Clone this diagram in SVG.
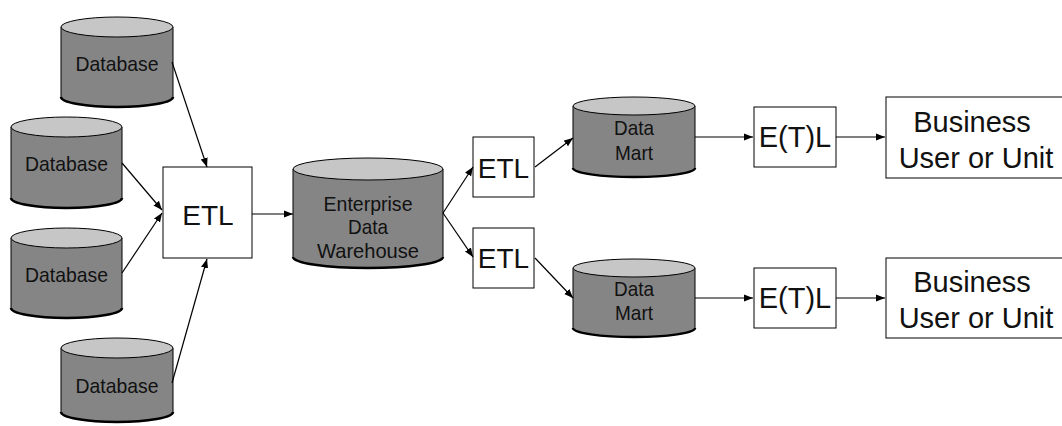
<svg xmlns="http://www.w3.org/2000/svg" width="1062" height="426" viewBox="0 0 1062 426">
<defs>
<style>
.body{fill:#858585;stroke:#000;stroke-width:1}
.top{fill:#c6c6c6;stroke:#000;stroke-width:1}
.base{fill:none;stroke:#000;stroke-width:2.5}
.box{fill:#fff;stroke:#000;stroke-width:1}
.t{font-family:"Liberation Sans",Arial,sans-serif;fill:#111;text-anchor:middle;dominant-baseline:central}
.s19{font-size:21px}
.s28{font-size:28px}
.s29{font-size:29px}
.c{stroke:#000;stroke-width:1.2;fill:none;marker-end:url(#ah)}
</style>
<marker id="ah" viewBox="0 0 10 10" refX="10" refY="5" markerWidth="9" markerHeight="9" markerUnits="userSpaceOnUse" orient="auto">
<path d="M0,1 L10,5 L0,9 z" fill="#000"/>
</marker>
</defs>
<rect width="1062" height="426" fill="#fff"/>

<g id="db1">
<path class="body" d="M61,27 V97 A56,10 0 0 0 173,97 V27"/>
<path class="base" d="M61,97 A56,10 0 0 0 173,97"/>
<ellipse class="top" cx="117" cy="27" rx="56" ry="10"/>
<text class="t s19" x="117" y="63" textLength="83" lengthAdjust="spacingAndGlyphs">Database</text>
</g>
<g id="db2">
<path class="body" d="M11,127 V198 A55.5,10 0 0 0 122,198 V127"/>
<path class="base" d="M11,198 A55.5,10 0 0 0 122,198"/>
<ellipse class="top" cx="66.5" cy="127" rx="55.5" ry="10"/>
<text class="t s19" x="66.5" y="163" textLength="83" lengthAdjust="spacingAndGlyphs">Database</text>
</g>
<g id="db3">
<path class="body" d="M11,238 V308 A55.5,10 0 0 0 122,308 V238"/>
<path class="base" d="M11,308 A55.5,10 0 0 0 122,308"/>
<ellipse class="top" cx="66.5" cy="238" rx="55.5" ry="10"/>
<text class="t s19" x="66.5" y="274" textLength="83" lengthAdjust="spacingAndGlyphs">Database</text>
</g>
<g id="db4">
<path class="body" d="M61,348 V412 A56,10 0 0 0 173,412 V348"/>
<path class="base" d="M61,412 A56,10 0 0 0 173,412"/>
<ellipse class="top" cx="117" cy="348" rx="56" ry="10"/>
<text class="t s19" x="117" y="385" textLength="83" lengthAdjust="spacingAndGlyphs">Database</text>
</g>

<g id="etl1">
<rect class="box" x="163" y="167" width="89" height="91"/>
<text class="t s28" x="208" y="215">ETL</text>
</g>

<g id="edw">
<path class="body" d="M293,169 V257 A75,11 0 0 0 443,257 V169"/>
<path class="base" d="M293,257 A75,11 0 0 0 443,257"/>
<ellipse class="top" cx="368" cy="169" rx="75" ry="11"/>
<text class="t s19" x="368" y="203" textLength="89" lengthAdjust="spacingAndGlyphs">Enterprise</text>
<text class="t s19" x="368" y="226" textLength="40" lengthAdjust="spacingAndGlyphs">Data</text>
<text class="t s19" x="368" y="250" textLength="102" lengthAdjust="spacingAndGlyphs">Warehouse</text>
</g>

<g id="etl2">
<rect class="box" x="473" y="137" width="61" height="60"/>
<text class="t s28" x="503.5" y="168">ETL</text>
</g>
<g id="etl3">
<rect class="box" x="473" y="228" width="61" height="60"/>
<text class="t s28" x="503.5" y="258">ETL</text>
</g>

<g id="dm1">
<path class="body" d="M573,106 V168 A61,9 0 0 0 695,168 V106"/>
<path class="base" d="M573,168 A61,9 0 0 0 695,168"/>
<ellipse class="top" cx="634" cy="106" rx="61" ry="9"/>
<text class="t s19" x="634" y="127" textLength="40" lengthAdjust="spacingAndGlyphs">Data</text>
<text class="t s19" x="634" y="152" textLength="38" lengthAdjust="spacingAndGlyphs">Mart</text>
</g>
<g id="dm2">
<path class="body" d="M573,268 V328 A61,9 0 0 0 695,328 V268"/>
<path class="base" d="M573,328 A61,9 0 0 0 695,328"/>
<ellipse class="top" cx="634" cy="268" rx="61" ry="9"/>
<text class="t s19" x="634" y="288" textLength="40" lengthAdjust="spacingAndGlyphs">Data</text>
<text class="t s19" x="634" y="312" textLength="38" lengthAdjust="spacingAndGlyphs">Mart</text>
</g>

<g id="etl4">
<rect class="box" x="754" y="107" width="82" height="60"/>
<text class="t s29" x="795" y="137">E(T)L</text>
</g>
<g id="etl5">
<rect class="box" x="754" y="268" width="82" height="60"/>
<text class="t s29" x="795" y="298">E(T)L</text>
</g>

<g id="bu1">
<rect class="box" x="886" y="97" width="200" height="81"/>
<text class="t s29" x="972" y="122">Business</text>
<text class="t s29" x="976" y="158">User or Unit</text>
</g>
<g id="bu2">
<rect class="box" x="886" y="258" width="200" height="80"/>
<text class="t s29" x="972" y="282">Business</text>
<text class="t s29" x="976" y="318">User or Unit</text>
</g>

<g id="connectors">
<line class="c" x1="172" y1="62" x2="207" y2="167"/>
<line class="c" x1="122" y1="163" x2="162" y2="210"/>
<line class="c" x1="122" y1="273" x2="162" y2="213"/>
<line class="c" x1="172" y1="383" x2="207" y2="259"/>
<line class="c" x1="252" y1="214" x2="293" y2="214"/>
<line class="c" x1="443" y1="213" x2="473" y2="167"/>
<line class="c" x1="443" y1="213" x2="473" y2="257"/>
<line class="c" x1="535" y1="167" x2="573" y2="138"/>
<line class="c" x1="535" y1="258" x2="573" y2="298"/>
<line class="c" x1="695" y1="137" x2="753" y2="137"/>
<line class="c" x1="695" y1="298" x2="753" y2="298"/>
<line class="c" x1="836" y1="137" x2="885" y2="137"/>
<line class="c" x1="836" y1="298" x2="885" y2="298"/>
</g>
</svg>
